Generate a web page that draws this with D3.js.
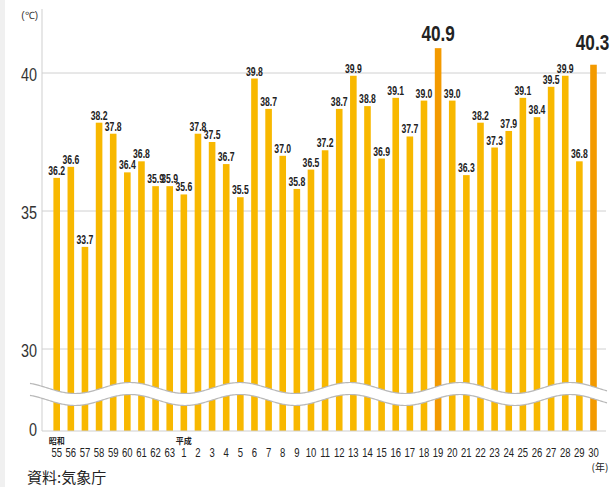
<!DOCTYPE html>
<html>
<head>
<meta charset="utf-8">
<script src="https://cdn.jsdelivr.net/npm/d3@7"></script>
<style>
  html, body { margin: 0; padding: 0; background: #fff; }
  svg { display: block; }
  .val { font-family: "Liberation Sans", Arial, sans-serif; font-weight: bold; fill: #222; }
  .tick-y { font-family: "Liberation Sans", Arial, sans-serif; fill: #333; }
  .tick-x { font-family: "Liberation Sans", Arial, sans-serif; fill: #222; }
  .jp { font-family: "Noto Sans CJK JP", sans-serif; fill: #222; }
</style>
</head>
<body>
<script>
// data (highest temperature of the year, deg C)
var years = ["55","56","57","58","59","60","61","62","63",
  "1","2","3","4","5","6","7","8","9","10","11","12","13","14","15",
  "16","17","18","19","20","21","22","23","24","25","26","27","28","29","30"];
var temps = [36.2,36.6,33.7,38.2,37.8,36.4,36.8,35.9,35.9,
  35.6,37.8,37.5,36.7,35.5,39.8,38.7,37.0,35.8,36.5,37.2,38.7,39.9,38.8,36.9,
  39.1,37.7,39.0,40.9,39.0,36.3,38.2,37.3,37.9,39.1,38.4,39.5,39.9,36.8,40.3];
var recordYears = ["19","30"];          // drawn in orange with big labels
var eraLabels = [{year:"55", text:"昭和"}, {year:"1", text:"平成"}];
var yTicks = [0, 30, 35, 40];
var gridTicks = [30, 35, 40];

var W = 614, H = 487;
var svg = d3.select("body").append("svg").attr("width", W).attr("height", H);

// faint strip on the left edge
svg.append("rect").attr("x", 0).attr("y", 0).attr("width", 5).attr("height", H).attr("fill", "#f0f0f0");

var x = d3.scalePoint().domain(years).range([56.7, 593.5]);
// broken axis: 0..30 squeezed, 30..40 full scale
var y = d3.scaleLinear().domain([0, 30, 40]).range([431, 349, 73]);
var barW = 6.6;
var axisX = 42, rightX = 606;

var rows = years.map(function(yr, i){ return {year: yr, v: temps[i], rec: recordYears.indexOf(yr) >= 0}; });

// condensed text: translate then squeeze horizontally
function squeeze(sx){
  return function(sel, fx, fy){
    sel.attr("transform", function(d, i){
      return "translate(" + fx(d, i) + "," + fy(d, i) + ") scale(" + sx + ",1)";
    });
  };
}

// grid
svg.selectAll(".grid").data(gridTicks).enter().append("line")
  .attr("x1", axisX).attr("x2", rightX)
  .attr("y1", function(d){ return y(d); }).attr("y2", function(d){ return y(d); })
  .attr("stroke", "#d0d0d0").attr("stroke-width", 1);

// bars
svg.selectAll(".bar").data(rows).enter().append("rect")
  .attr("x", function(d){ return x(d.year) - barW/2; })
  .attr("y", function(d){ return y(d.v); })
  .attr("width", barW)
  .attr("height", function(d){ return y(0) - y(d.v); })
  .attr("fill", function(d){ return d.rec ? "#f39a00" : "#f8b800"; });

// axis lines
svg.append("line").attr("x1", axisX).attr("x2", axisX).attr("y1", 9).attr("y2", y(0))
  .attr("stroke", "#cfcfcf");
svg.append("line").attr("x1", axisX).attr("x2", rightX).attr("y1", y(0)).attr("y2", y(0))
  .attr("stroke", "#cfcfcf");

// wavy break band
var amp = 5.5, period = 110, crest = 130, thick = 12;
var xs = d3.range(30, 608, 1);
function waveTop(px){ return 388 - amp * Math.cos(2 * Math.PI * (px - crest) / period); }
var upper = xs.map(function(px){ return [px, waveTop(px)]; });
var lower = xs.map(function(px){ return [px, waveTop(px) + thick]; });
var line = d3.line();
svg.append("path").attr("d", line(upper.concat(lower.slice().reverse())) + "Z").attr("fill", "#fff");
svg.append("path").attr("d", line(upper)).attr("fill", "none").attr("stroke", "#b8b8b8").attr("stroke-width", 1.2);
svg.append("path").attr("d", line(lower)).attr("fill", "none").attr("stroke", "#b8b8b8").attr("stroke-width", 1.2);

// value labels
var small = rows.filter(function(d){ return !d.rec; });
var big = rows.filter(function(d){ return d.rec; });
svg.selectAll(".val-s").data(small).enter().append("text")
  .attr("class", "val")
  .attr("text-anchor", "middle")
  .attr("font-size", 12)
  .call(squeeze(0.72), function(d){ return x(d.year); }, function(d){ return y(d.v) - 3; })
  .text(function(d){ return d.v.toFixed(1); });
svg.selectAll(".val-b").data(big).enter().append("text")
  .attr("class", "val")
  .attr("text-anchor", "middle")
  .attr("font-size", 22)
  .call(squeeze(0.78), function(d){ return x(d.year) - (d.year === "30" ? 1 : 0); },
        function(d){ return y(d.v) - (d.year === "30" ? 15 : 7); })
  .text(function(d){ return d.v.toFixed(1); });

// y tick labels
svg.selectAll(".tick-y").data(yTicks).enter().append("text")
  .attr("class", "tick-y")
  .attr("text-anchor", "end")
  .attr("font-size", 18)
  .call(squeeze(0.8), function(){ return 37; }, function(d){ return d === 0 ? y(d) + 5 : y(d) + 8; })
  .text(function(d){ return d; });
svg.append("text").attr("class", "tick-y").attr("x", 38).attr("y", 19)
  .attr("text-anchor", "end").attr("font-size", 10).text("(℃)");

// x tick labels
svg.selectAll(".tick-x").data(years).enter().append("text")
  .attr("class", "tick-x")
  .attr("text-anchor", "middle")
  .attr("font-size", 12.5)
  .call(squeeze(0.76), function(d){ return x(d); }, function(){ return 457; })
  .text(function(d){ return d; });

svg.selectAll(".era").data(eraLabels).enter().append("text")
  .attr("class", "jp")
  .attr("x", function(d){ return x(d.year); })
  .attr("y", 444)
  .attr("text-anchor", "middle")
  .attr("font-size", 8)
  .attr("font-weight", "bold")
  .text(function(d){ return d.text; });

svg.append("text").attr("class", "jp").attr("x", 600).attr("y", 471)
  .attr("text-anchor", "middle").attr("font-size", 10).text("(年)");

svg.append("text").attr("class", "jp").attr("x", 27).attr("y", 483)
  .attr("font-size", 15).text("資料:気象庁");
</script>
</body>
</html>
